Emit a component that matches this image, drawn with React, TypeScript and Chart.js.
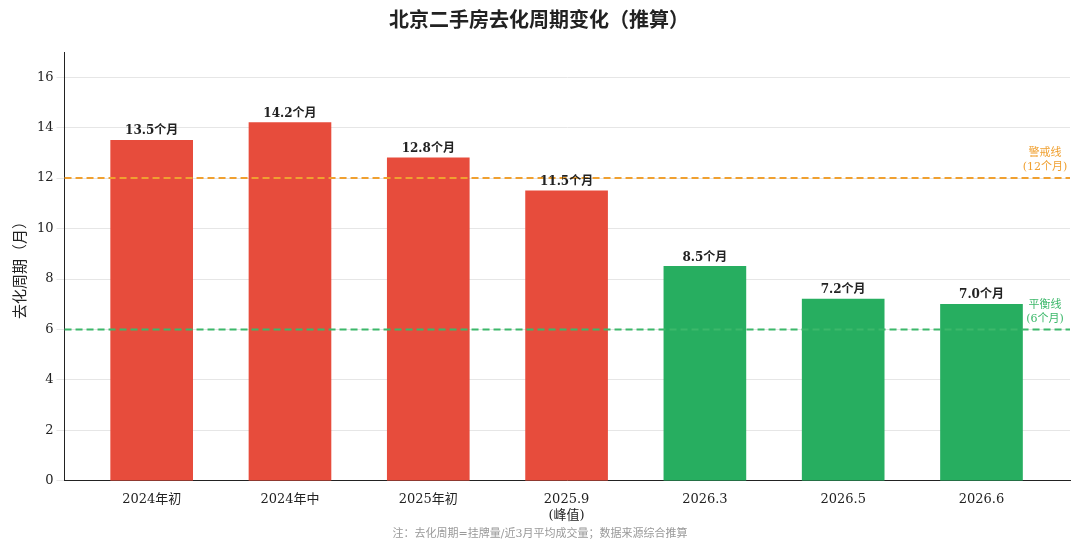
import React, { useEffect, useRef } from "react";
import { Chart, registerables } from "chart.js";
Chart.register(...registerables);

const categories: (string | string[])[] = ["2024年初", "2024年中", "2025年初", ["2025.9", "(峰值)"], "2026.3", "2026.5", "2026.6"];
const values = [13.5, 14.2, 12.8, 11.5, 8.5, 7.2, 7.0];
const warnLine = 12;
const balanceLine = 6;
const yTicks = [0, 2, 4, 6, 8, 10, 12, 14, 16];

const FONT = "'DejaVu Serif', 'Noto Sans CJK SC', serif";

export default function App() {
  const ref = useRef<HTMLCanvasElement>(null);
  useEffect(() => {
    const colors = values.map((v) => (v > 10 ? "#e74c3c" : "#27ae60"));
    const plugin = {
      id: "extras",
      afterDatasetsDraw(chart: any) {
        const { ctx, chartArea, scales } = chart;
        const y = scales.y;
        ctx.save();
        const lines = [
          { v: warnLine, c: "#f0a030", t: ["警戒线", "(12个月)"] },
          { v: balanceLine, c: "#3cb86a", t: ["平衡线", "(6个月)"] },
        ];
        for (const l of lines) {
          const py = y.getPixelForValue(l.v);
          ctx.strokeStyle = l.c;
          ctx.lineWidth = 2;
          ctx.setLineDash([7, 4]);
          ctx.beginPath();
          ctx.moveTo(chartArea.left, py);
          ctx.lineTo(chartArea.right, py);
          ctx.stroke();
          ctx.setLineDash([]);
          ctx.fillStyle = l.c;
          ctx.font = `11px ${FONT}`;
          ctx.textAlign = "center";
          ctx.textBaseline = "bottom";
          ctx.fillText(l.t[0], 1045, py - 19);
          ctx.fillText(l.t[1], 1045, py - 5);
        }
        const meta = chart.getDatasetMeta(0);
        ctx.fillStyle = "#222";
        ctx.font = `600 12px ${FONT}`;
        ctx.textAlign = "center";
        ctx.textBaseline = "bottom";
        meta.data.forEach((bar: any, i: number) => {
          ctx.fillText(values[i].toFixed(1) + "个月", bar.x, bar.y - 3);
        });
        ctx.fillStyle = "#999";
        ctx.font = `11px ${FONT}`;
        ctx.textBaseline = "middle";
        ctx.fillText("注：去化周期=挂牌量/近3月平均成交量；数据来源综合推算", 540, 534);
        ctx.restore();
      },
    };
    const chart = new Chart(ref.current!, {
      type: "bar",
      data: {
        datasets: [{
          data: values.map((v, i) => ({ x: i, y: v })),
          backgroundColor: colors,
          barThickness: 82,
        }],
      },
      options: {
        animation: false,
        responsive: false,
        layout: { padding: { top: 0, right: 10, bottom: 24, left: 8 } },
        plugins: {
          legend: { display: false },
          tooltip: { enabled: false },
          title: {
            display: true,
            text: "北京二手房去化周期变化（推算）",
            font: { size: 20, weight: "bold", family: FONT },
            color: "#222",
            padding: { top: 10, bottom: 18 },
          },
        },
        scales: {
          x: {
            type: "linear",
            min: -0.63,
            max: 6.64,
            offset: false,
            afterBuildTicks: (s: any) => { s.ticks = categories.map((_, i) => ({ value: i })); },
            grid: { display: false },
            border: { color: "#222" },
            ticks: {
              color: "#222",
              font: { size: 13, family: FONT },
              callback: (v: any) => categories[v as number] ?? "",
            },
          },
          y: {
            min: 0,
            max: 17,
            afterBuildTicks: (s: any) => { s.ticks = yTicks.map((v) => ({ value: v })); },
            grid: { color: "#e6e6e6" },
            border: { color: "#222" },
            ticks: { color: "#222", font: { size: 13, family: FONT } },
            title: { display: true, text: "去化周期（月）", color: "#222", font: { size: 15, family: FONT } },
          },
        },
      },
      plugins: [plugin],
    });
    return () => chart.destroy();
  }, []);
  return (
    <div style={{ position: "fixed", left: 0, top: 0, width: 1080, height: 550, background: "#fff" }}>
      <canvas ref={ref} width={1080} height={550} />
    </div>
  );
}
